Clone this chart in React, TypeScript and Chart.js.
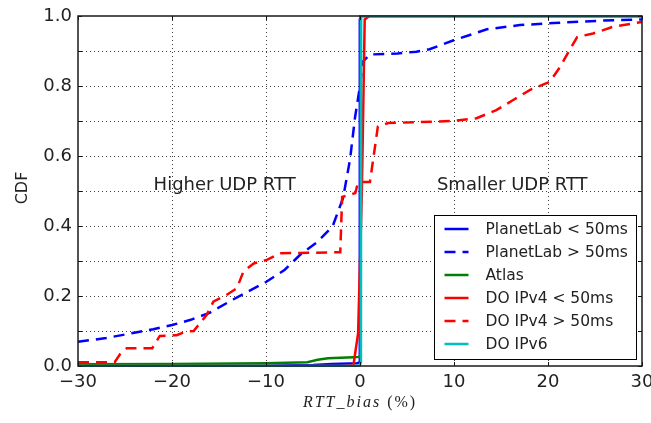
import React, { useEffect, useRef } from "react";
import { Chart, registerables } from "chart.js";

Chart.register(...registerables);

// Axis ticks
const X_TICKS = [-30, -20, -10, 0, 10, 20, 30];
const Y_GRID = [0, 0.1, 0.2, 0.3, 0.4, 0.5, 0.6, 0.7, 0.8, 0.9, 1.0];
const Y_LABELED = [0, 0.2, 0.4, 0.6, 0.8, 1.0];

// Series names (legend order)
const SERIES_NAMES = [
  "PlanetLab < 50ms",
  "PlanetLab > 50ms",
  "Atlas",
  "DO IPv4 < 50ms",
  "DO IPv4 > 50ms",
  "DO IPv6",
];

// CDF curves: RTT_bias (%) vs cumulative fraction
const PL_LOW_X = [-30, -10, -5, -3, -0.3, -0.05, -0.02, 0.1, 30];
const PL_LOW_Y = [0, 0.001, 0.003, 0.006, 0.008, 0.01, 0.99, 1.0, 1.0];

const PL_HIGH_X = [-30, -27, -24, -22, -20, -18, -16, -13.5, -10, -8, -6.4, -4.5, -2.9, -1.8, -1.06, -0.53, 0, 0.3, 1.06, 4, 6, 7.4, 9.9, 13.5, 17, 20.6, 25.9, 30];
const PL_HIGH_Y = [0.069, 0.08, 0.095, 0.105, 0.117, 0.132, 0.152, 0.19, 0.24, 0.275, 0.317, 0.355, 0.4, 0.48, 0.59, 0.71, 0.8, 0.87, 0.89, 0.893, 0.898, 0.905, 0.93, 0.962, 0.974, 0.98, 0.987, 0.99];

const ATLAS_X = [-30, -20, -10, -5.6, -4.5, -3.4, -0.7, -0.1, 0.02, 0.05, 30];
const ATLAS_Y = [0.005, 0.006, 0.008, 0.011, 0.018, 0.022, 0.025, 0.026, 0.03, 1.0, 1.0];

const DO4_LOW_X = [-30, -1.5, -0.7, -0.2, 0.2, 0.5, 1.0, 30];
const DO4_LOW_Y = [0, 0, 0.002, 0.094, 0.5, 0.99, 1.0, 1.0];

const DO4_HIGH_X = [-30, -26.1, -25.5, -24.8, -22.1, -21.3, -19.5, -18.6, -17.7, -16.3, -15.6, -14.2, -13.1, -12.4, -11.3, -9.9, -8.5, -2.1, -1.9, -0.5, -0.2, 1.06, 1.9, 3.0, 9.9, 12.4, 14.5, 16.3, 18.1, 20.2, 21.3, 22.3, 23.1, 24.8, 26.9, 30];
const DO4_HIGH_Y = [0.011, 0.011, 0.035, 0.051, 0.051, 0.086, 0.088, 0.098, 0.1, 0.146, 0.184, 0.203, 0.222, 0.27, 0.293, 0.303, 0.322, 0.325, 0.483, 0.494, 0.526, 0.526, 0.684, 0.694, 0.7, 0.708, 0.731, 0.76, 0.789, 0.812, 0.855, 0.903, 0.94, 0.95, 0.969, 0.983];

const DO6_X = [-30, -0.1, 0.1, 0.12, 30];
const DO6_Y = [0, 0, 0.01, 1.0, 1.0];

const SERIES_X = [PL_LOW_X, PL_HIGH_X, ATLAS_X, DO4_LOW_X, DO4_HIGH_X, DO6_X];
const SERIES_Y = [PL_LOW_Y, PL_HIGH_Y, ATLAS_Y, DO4_LOW_Y, DO4_HIGH_Y, DO6_Y];

// Region captions, placed in data coordinates
const CAPTIONS = [
  { text: "Higher UDP RTT", x: -14.4, y: 0.515 },
  { text: "Smaller UDP RTT", x: 16.2, y: 0.515 },
];

// Styles
const COLORS = ["#0000ff", "#0000ff", "#008000", "#ff0000", "#ff0000", "#00bfbf"];
const DASHES: number[][] = [[], [11, 7], [], [], [11, 7], []];
const FONT = "'DejaVu Sans', sans-serif";

const minusFmt = (v: number) => (v < 0 ? "\u2212" + Math.abs(v) : String(v));

const decorPlugin = {
  id: "decor",
  beforeDatasetsDraw(chart: any) {
    const { ctx, chartArea: a, scales } = chart;
    const x = scales.x;
    const y = scales.y;
    ctx.save();
    // dotted grid
    ctx.strokeStyle = "rgba(0,0,0,0.75)";
    ctx.lineWidth = 1;
    ctx.setLineDash([1, 3]);
    X_TICKS.forEach((v) => {
      const px = Math.round(x.getPixelForValue(v)) + 0.5;
      if (px <= a.left + 1 || px >= a.right - 1) return;
      ctx.beginPath();
      ctx.moveTo(px, a.top);
      ctx.lineTo(px, a.bottom);
      ctx.stroke();
    });
    Y_GRID.forEach((v) => {
      const py = Math.round(y.getPixelForValue(v)) + 0.5;
      if (py <= a.top + 1 || py >= a.bottom - 1) return;
      ctx.beginPath();
      ctx.moveTo(a.left, py);
      ctx.lineTo(a.right, py);
      ctx.stroke();
    });
    ctx.setLineDash([]);
    // region captions
    ctx.fillStyle = "#222";
    ctx.font = `18px ${FONT}`;
    ctx.textAlign = "center";
    ctx.textBaseline = "middle";
    CAPTIONS.forEach((c) => {
      ctx.fillText(c.text, x.getPixelForValue(c.x), y.getPixelForValue(c.y));
    });
    ctx.restore();
  },
  afterDatasetsDraw(chart: any) {
    const { ctx, chartArea: a, scales } = chart;
    const x = scales.x;
    const y = scales.y;
    ctx.save();
    // inward ticks on all four sides
    ctx.strokeStyle = "#111";
    ctx.lineWidth = 1;
    const tl = 4;
    X_TICKS.forEach((v) => {
      const px = Math.round(x.getPixelForValue(v)) + 0.5;
      ctx.beginPath();
      ctx.moveTo(px, a.bottom);
      ctx.lineTo(px, a.bottom - tl);
      ctx.moveTo(px, a.top);
      ctx.lineTo(px, a.top + tl);
      ctx.stroke();
    });
    Y_GRID.forEach((v) => {
      const py = Math.round(y.getPixelForValue(v)) + 0.5;
      ctx.beginPath();
      ctx.moveTo(a.left, py);
      ctx.lineTo(a.left + tl, py);
      ctx.moveTo(a.right, py);
      ctx.lineTo(a.right - tl, py);
      ctx.stroke();
    });
    // frame
    ctx.strokeStyle = "#1a1a1a";
    ctx.lineWidth = 1.5;
    ctx.strokeRect(a.left, a.top, a.right - a.left, a.bottom - a.top);

    // legend box
    const bw = 202;
    const bh = 144;
    const bx = Math.round(a.right - 6 - bw) + 0.5;
    const by = Math.round(a.bottom - 7 - bh) + 0.5;
    ctx.fillStyle = "#ffffff";
    ctx.fillRect(bx, by, bw, bh);
    ctx.strokeStyle = "#000";
    ctx.lineWidth = 1;
    ctx.strokeRect(bx, by, bw, bh);
    ctx.font = `15.5px ${FONT}`;
    ctx.textAlign = "left";
    ctx.textBaseline = "middle";
    SERIES_NAMES.forEach((name, i) => {
      const ry = by + 13.5 + i * 23;
      ctx.strokeStyle = COLORS[i];
      ctx.lineWidth = 2.5;
      ctx.setLineDash(DASHES[i]);
      ctx.beginPath();
      ctx.moveTo(bx + 10, ry);
      ctx.lineTo(bx + 34, ry);
      ctx.stroke();
      ctx.setLineDash([]);
      ctx.fillStyle = "#222";
      ctx.fillText(name, bx + 51, ry + 1);
    });

    // axis titles
    ctx.fillStyle = "#222";
    const cx = (a.left + a.right) / 2;
    const ty = a.bottom + 37;
    const f1 = `italic 16px 'Liberation Serif', serif`;
    const f2 = `16px 'Liberation Serif', serif`;
    const t1 = "RTT_bias";
    const t2 = " (%)";
    ctx.letterSpacing = "2px";
    ctx.font = f1;
    const w1 = ctx.measureText(t1).width;
    ctx.font = f2;
    const w2 = ctx.measureText(t2).width;
    const sx = cx - (w1 + w2) / 2;
    ctx.textAlign = "left";
    ctx.textBaseline = "middle";
    ctx.font = f1;
    ctx.fillText(t1, sx, ty);
    ctx.font = f2;
    ctx.fillText(t2, sx + w1, ty);
    ctx.letterSpacing = "0px";

    ctx.translate(22.5, (a.top + a.bottom) / 2 - 3);
    ctx.rotate(-Math.PI / 2);
    ctx.font = `16px ${FONT}`;
    ctx.textAlign = "center";
    ctx.fillText("CDF", 0, 0);
    ctx.restore();
  },
};

export default function App() {
  const ref = useRef<HTMLCanvasElement | null>(null);

  useEffect(() => {
    if (!ref.current) return;
    const datasets = SERIES_NAMES.map((name, i) => ({
      label: name,
      data: SERIES_X[i].map((xv, j) => ({ x: xv, y: SERIES_Y[i][j] })),
      borderColor: COLORS[i],
      backgroundColor: COLORS[i],
      borderWidth: 2.5,
      borderDash: DASHES[i],
      pointRadius: 0,
      tension: 0,
      fill: false,
      order: SERIES_NAMES.length - i,
      clip: 1,
    }));

    const chart = new Chart(ref.current, {
      type: "line",
      data: { datasets },
      options: {
        responsive: false,
        animation: false,
        devicePixelRatio: 1,
        layout: { padding: { top: 16, right: 9, bottom: 0, left: 0 } },
        plugins: { legend: { display: false }, tooltip: { enabled: false } },
        scales: {
          x: {
            type: "linear",
            min: -30,
            max: 30,
            grid: { display: false, drawTicks: false },
            border: { display: false },
            ticks: {
              stepSize: 10,
              padding: 6,
              color: "#222",
              font: { family: FONT, size: 18 },
              maxRotation: 0,
              callback: (v: any) => minusFmt(Number(v)),
            },
            afterFit: (s: any) => {
              s.height = 57;
              s.paddingLeft = 0;
              s.paddingRight = 0;
            },
          },
          y: {
            type: "linear",
            min: 0,
            max: 1,
            grid: { display: false, drawTicks: false },
            border: { display: false },
            ticks: {
              stepSize: 0.1,
              padding: 6,
              color: "#222",
              font: { family: FONT, size: 18 },
              callback: (v: any) => {
                const n = Number(v);
                return Y_LABELED.some((t) => Math.abs(t - n) < 1e-6) ? n.toFixed(1) : "";
              },
            },
            afterFit: (s: any) => {
              s.width = 78;
              s.paddingTop = 0;
              s.paddingBottom = 0;
            },
          },
        },
      },
      plugins: [decorPlugin],
    });
    return () => chart.destroy();
  }, []);

  return (
    <div style={{ position: "fixed", left: 0, top: 0, width: 651, height: 423, background: "#fff" }}>
      <canvas ref={ref} width={651} height={423} />
    </div>
  );
}
